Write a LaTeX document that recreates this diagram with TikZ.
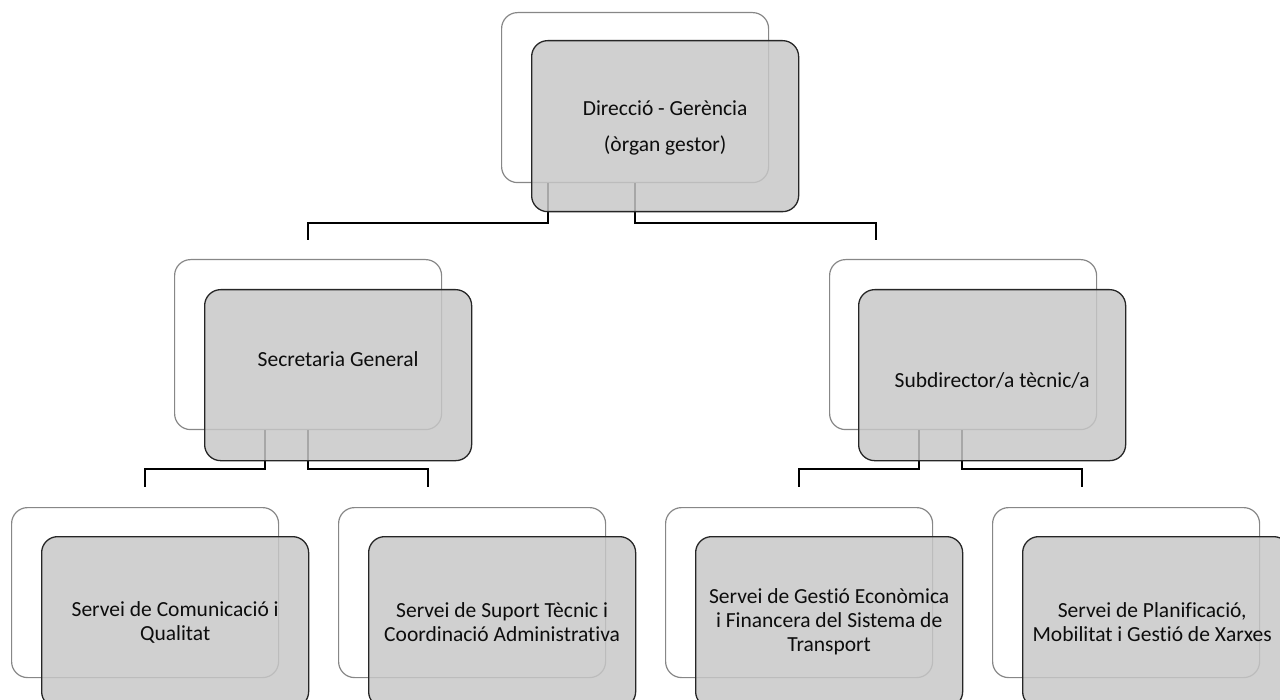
\documentclass[tikz,border=0pt]{standalone}
\usepackage{fontspec}
\setmainfont{Carlito}[Ligatures={NoCommon}]
\begin{document}
\begin{tikzpicture}[x=1pt,y=-1pt,
  backbox/.style={draw=black!47, line width=1.2pt, fill=white, rounded corners=16pt,
    minimum width=267pt, minimum height=170pt, anchor=north west, inner sep=0pt},
  frontbox/.style={draw=black!85, line width=1.3pt, fill=black!22, fill opacity=0.84,
    rounded corners=16pt, minimum width=267pt, minimum height=171pt, anchor=north west, inner sep=0pt},
  lbl/.style={font=\fontsize{21.5}{24}\selectfont, align=center, text=black!95, inner sep=0pt},
  conn/.style={draw=black, line width=2.4pt}]
\useasboundingbox (0,0) rectangle (1280,700);
\clip (0,0) rectangle (1280,700);

% back boxes
\node[backbox] (dgB) at (501,12) {};
\node[backbox] (sgB) at (174,259) {};
\node[backbox] (sdB) at (829,259) {};
\node[backbox] (b1B) at (11,507) {};
\node[backbox] (b2B) at (338,507) {};
\node[backbox] (b3B) at (665,507) {};
\node[backbox] (b4B) at (992,507) {};

% connector ends
\coordinate (e1) at ([yshift=19pt]sgB.north);
\coordinate (e2) at ([xshift=47pt,yshift=19pt]sdB.north west);
\coordinate (e3) at ([yshift=20pt]b1B.north);
\coordinate (e4) at ([xshift=90pt,yshift=20pt]b2B.north west);
\coordinate (e5) at ([yshift=20pt]b3B.north);
\coordinate (e6) at ([xshift=90pt,yshift=20pt]b4B.north west);

% connectors
\draw[conn] ([xshift=47pt]dgB.south west) |- ([yshift=17pt]e1) -- (e1);
\draw[conn] ([xshift=134pt]dgB.south west) |- ([yshift=17pt]e2) -- (e2);
\draw[conn] ([xshift=91pt]sgB.south west) |- ([yshift=18pt]e3) -- (e3);
\draw[conn] ([xshift=134pt]sgB.south west) |- ([yshift=18pt]e4) -- (e4);
\draw[conn] ([xshift=90pt]sdB.south west) |- ([yshift=18pt]e5) -- (e5);
\draw[conn] ([xshift=133pt]sdB.south west) |- ([yshift=18pt]e6) -- (e6);

% front boxes
\node[frontbox] (dgF) at (531,40) {};
\node[frontbox] (sgF) at (204,289) {};
\node[frontbox] (sdF) at (858,289) {};
\node[frontbox] (b1F) at (41,536) {};
\node[frontbox] (b2F) at (368,536) {};
\node[frontbox] (b3F) at (695,536) {};
\node[frontbox] (b4F) at (1022,536) {};

% texts
\node[lbl] (dgT) at ([yshift=-2pt]dgF.center) {Direcció - Gerència\\[12pt](òrgan gestor)};
\node[lbl] (sgT) at ([yshift=16pt]sgF.center) {Secretaria General};
\node[lbl] (sdT) at ([yshift=-5pt]sdF.center) {Subdirector/a tècnic/a};
\node[lbl] (b1T) at (b1F.center) {Servei de Comunicació i\\Qualitat};
\node[lbl] (b2T) at (b2F.center) {Servei de Suport Tècnic i\\Coordinació Administrativa};
\node[lbl] (b3T) at (b3F.center) {Servei de Gestió Econòmica\\i Financera del Sistema de\\Transport};
\node[lbl] (b4T) at ([xshift=-4pt]b4F.center) {Servei de Planificació,\\Mobilitat i Gestió de Xarxes};
\end{tikzpicture}
\end{document}
